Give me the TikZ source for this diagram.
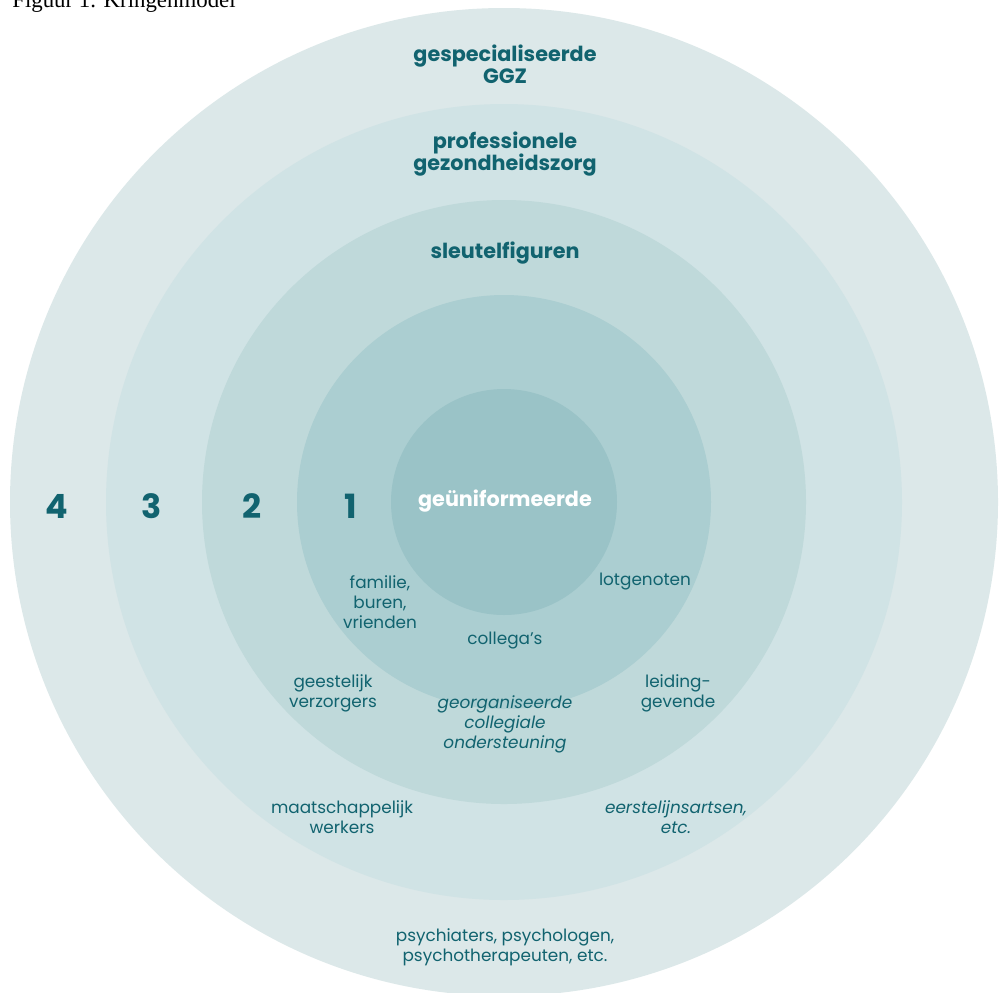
\documentclass[tikz,border=0pt]{standalone}
\usepackage{fontspec}
\setmainfont{Poppins}
\newfontfamily\capfont{Liberation Serif}
\definecolor{ring4}{HTML}{DCE8E9}
\definecolor{ring3}{HTML}{D0E3E5}
\definecolor{ring2}{HTML}{BFD9DA}
\definecolor{ring1}{HTML}{ABCED1}
\definecolor{ring0}{HTML}{9AC3C7}
\definecolor{teal}{HTML}{11636F}
\begin{document}
\begin{tikzpicture}[x={(0.02cm,0cm)},y={(0cm,-0.02cm)},
  title/.style={font=\fontsize{11.8}{12.8}\selectfont\bfseries, text=teal, align=center, inner sep=0pt},
  label/.style={font=\fontsize{9.6}{11.4}\selectfont, text=teal, align=center, inner sep=0pt},
  ringnr/.style={font=\fontsize{19}{20}\selectfont\bfseries, text=teal, inner sep=0pt}]
\useasboundingbox (0,0) rectangle (1000,992);
\fill[white] (0,0) rectangle (1000,992);

\fill[ring4] (504,502) circle (494);
\fill[ring3] (504,502) circle (398);
\fill[ring2] (504,502) circle (302);
\fill[ring1] (504,502) circle (207);
\fill[ring0] (504,502) circle (113);

\node[anchor=base west, inner sep=0pt, font=\capfont\fontsize{13}{14}\selectfont] (caption) at (12,7) {Figuur 1. Kringenmodel};

\node[title] (ggz) at (505,64) {gespecialiseerde\\GGZ};
\node[title] (prof) at (505,154) {professionele\\gezondheidszorg};
\node[title] (sleutel) at (505,253) {sleutelfiguren};
\node[title, text=white] (unif) at (505,501) {geüniformeerde};

\node[ringnr] (nr4) at (57,506) {4};
\node[ringnr] (nr3) at (152,506) {3};
\node[ringnr] (nr2) at (252,506) {2};
\node[ringnr] (nr1) at (351,506) {1};

\node[label] (familie) at (380,602) {familie,\\buren,\\vrienden};
\node[label] (lotgen) at (645,582) {lotgenoten};
\node[label] (collegas) at (505,641) {collega’s};
\node[label] (geestelijk) at (333,693) {geestelijk\\verzorgers};
\node[label, font=\fontsize{9.6}{11.4}\selectfont\itshape] (georg) at (505,724) {georganiseerde\\collegiale\\ondersteuning};
\node[label] (leiding) at (678,693) {leiding-\\gevende};
\node[label] (maatsch) at (342,817) {maatschappelijk\\werkers};
\node[label, font=\fontsize{9.6}{11.4}\selectfont\itshape] (eerstelijn) at (676,817) {eerstelijnsartsen,\\etc.};
\node[label] (psych) at (505,947) {psychiaters, psychologen,\\psychotherapeuten, etc.};
\end{tikzpicture}
\end{document}
